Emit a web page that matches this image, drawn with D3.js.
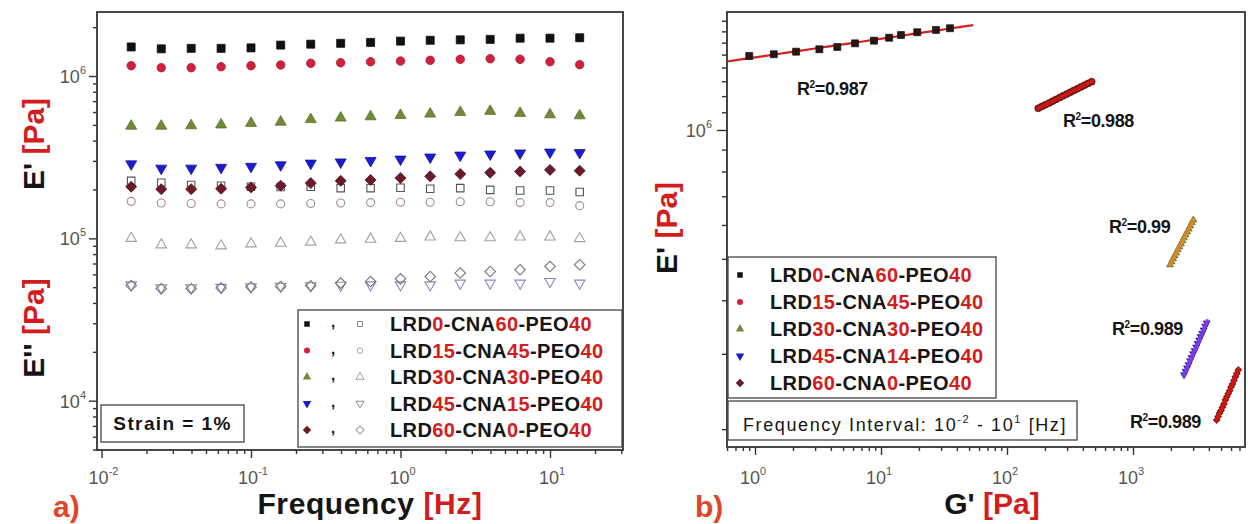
<!DOCTYPE html>
<html><head><meta charset="utf-8">
<script src="https://cdn.jsdelivr.net/npm/d3@7"></script>
<style>body{margin:0;background:#fff}svg{display:block;font-family:"Liberation Sans",Arial,sans-serif}</style>
</head><body><svg id="c" width="1248" height="524"></svg>
<script>
// ---------------- DATA ----------------
const frequencyHz = [0.0158,0.0251,0.0398,0.0631,0.1,0.158,0.251,0.398,0.631,1.0,1.58,2.51,3.98,6.31,10.0,15.8];
const legendLabelsA = ["LRD0-CNA60-PEO40","LRD15-CNA45-PEO40","LRD30-CNA30-PEO40","LRD45-CNA15-PEO40","LRD60-CNA0-PEO40"];
const legendLabelsB = ["LRD0-CNA60-PEO40","LRD15-CNA45-PEO40","LRD30-CNA30-PEO40","LRD45-CNA14-PEO40","LRD60-CNA0-PEO40"];

// E' (storage) vs frequency, panel a
const storageLRD0  = [1.51e6,1.47e6,1.48e6,1.48e6,1.49e6,1.55e6,1.57e6,1.59e6,1.61e6,1.64e6,1.66e6,1.67e6,1.68e6,1.71e6,1.71e6,1.72e6];
const storageLRD15 = [1.157e6,1.125e6,1.125e6,1.141e6,1.157e6,1.169e6,1.197e6,1.207e6,1.224e6,1.236e6,1.249e6,1.267e6,1.278e6,1.267e6,1.224e6,1.175e6];
const storageLRD30 = [4.92e5,4.92e5,4.95e5,5.01e5,5.12e5,5.21e5,5.40e5,5.52e5,5.62e5,5.73e5,5.84e5,5.98e5,6.07e5,5.90e5,5.78e5,5.70e5];
const storageLRD45 = [2.87e5,2.70e5,2.70e5,2.73e5,2.77e5,2.83e5,2.90e5,2.95e5,3.01e5,3.07e5,3.16e5,3.25e5,3.30e5,3.35e5,3.39e5,3.37e5];
const storageLRD60 = [2.08e5,2.01e5,2.01e5,2.02e5,2.06e5,2.11e5,2.19e5,2.26e5,2.29e5,2.35e5,2.41e5,2.49e5,2.54e5,2.58e5,2.64e5,2.61e5];
// E'' (loss) vs frequency, panel a
const lossLRD0  = [2.26e5,2.20e5,2.13e5,2.11e5,2.08e5,2.07e5,2.08e5,2.04e5,2.04e5,2.05e5,2.02e5,2.04e5,1.99e5,1.97e5,1.97e5,1.93e5];
const lossLRD15 = [1.69e5,1.65e5,1.64e5,1.63e5,1.63e5,1.63e5,1.64e5,1.65e5,1.66e5,1.67e5,1.67e5,1.68e5,1.68e5,1.66e5,1.66e5,1.59e5];
const lossLRD30 = [1.00e5,9.12e4,9.12e4,8.99e4,9.25e4,9.33e4,9.48e4,9.79e4,9.88e4,1.00e5,1.02e5,1.01e5,1.01e5,1.02e5,1.02e5,9.97e4];
const lossLRD45 = [5.17e4,4.96e4,4.96e4,4.99e4,5.03e4,5.07e4,5.10e4,5.14e4,5.17e4,5.17e4,5.17e4,5.30e4,5.30e4,5.30e4,5.42e4,5.30e4];
const lossLRD60 = [5.12e4,4.89e4,4.89e4,4.94e4,5.01e4,5.05e4,5.10e4,5.30e4,5.42e4,5.63e4,5.82e4,6.11e4,6.25e4,6.40e4,6.70e4,6.87e4];

// E' vs G' (panel b)
const gPrimeLRD0  = [0.90,1.41,2.12,3.24,4.50,6.22,8.80,11.6,14.4,19.4,27.3,35.3];
const ePrimeLRD0  = [1.489e6,1.503e6,1.524e6,1.544e6,1.563e6,1.594e6,1.617e6,1.643e6,1.667e6,1.692e6,1.713e6,1.729e6];
const gPrimeLRD15 = [177,189,202,216,230,245,262,279,298,318,339,362,386,412,440,470];
const ePrimeLRD15 = [1.124e6,1.135e6,1.146e6,1.156e6,1.168e6,1.179e6,1.191e6,1.202e6,1.213e6,1.225e6,1.237e6,1.248e6,1.261e6,1.273e6,1.285e6,1.297e6];
const gPrimeLRD30 = [1967,2024,2082,2142,2204,2267,2333,2400,2469,2540,2614,2689,2767,2846,2928,3012];
const ePrimeLRD30 = [4.84e5,4.92e5,5.00e5,5.08e5,5.16e5,5.25e5,5.33e5,5.42e5,5.51e5,5.60e5,5.69e5,5.78e5,5.87e5,5.97e5,6.07e5,6.16e5];
const gPrimeLRD45 = [2541,2612,2685,2761,2838,2917,2999,3083,3170,3259,3350,3444,3540,3640,3742,3846];
const ePrimeLRD45 = [2.68e5,2.73e5,2.78e5,2.83e5,2.89e5,2.94e5,3.00e5,3.05e5,3.11e5,3.17e5,3.23e5,3.29e5,3.35e5,3.41e5,3.48e5,3.54e5];
const gPrimeLRD60 = [4616,4739,4865,4995,5128,5265,5405,5549,5697,5849,6005,6165,6329,6498,6671,6850];
const ePrimeLRD60 = [2.10e5,2.14e5,2.18e5,2.21e5,2.25e5,2.29e5,2.34e5,2.38e5,2.42e5,2.46e5,2.51e5,2.55e5,2.60e5,2.65e5,2.70e5,2.75e5];
const fitRangeG = [[0.6,54],[170,490],[1940,3060],[2500,3950],[4550,7000]];
const r2Values = ["0.987","0.988","0.99","0.989","0.989"];

const xTickExpA = [-2,-1,0,1];
const yTickExpA = [4,5,6];
const xTickExpB = [0,1,2,3];
const yTickExpB = [6];

// ---------------- STYLE / LAYOUT ----------------
const RED = "#d41c1c";
const styles = [
  {sym:"square",  fill:"#111111", open:"#555555", legOpen:"#8a8a8a", fit:"#d42020", bfill:"#2a1515"},
  {sym:"circle",  fill:"#d0203c", open:"#a88888", legOpen:"#a0a0a0", fit:"#d01818", bfill:"#7a1010"},
  {sym:"tri",     fill:"#728a36", open:"#a0a0a0", legOpen:"#a0a0a0", fit:"#e08a2a", bfill:"#6f8a30"},
  {sym:"dtri",    fill:"#1c1ccc", open:"#8888c0", legOpen:"#909090", fit:"#8a3cf0", bfill:"#2020c0"},
  {sym:"diamond", fill:"#6a1a2a", open:"#777777", legOpen:"#999999", fit:"#e01414", bfill:"#6a1010"}
];
const storageA = [storageLRD0,storageLRD15,storageLRD30,storageLRD45,storageLRD60];
const lossA = [lossLRD0,lossLRD15,lossLRD30,lossLRD45,lossLRD60];
const gB = [gPrimeLRD0,gPrimeLRD15,gPrimeLRD30,gPrimeLRD45,gPrimeLRD60];
const eB = [ePrimeLRD0,ePrimeLRD15,ePrimeLRD30,ePrimeLRD45,ePrimeLRD60];

const svg = d3.select("#c");
const A = {left:97,right:623,top:12,bottom:450};
const B = {left:727,right:1245,top:12,bottom:447};
const xA = d3.scaleLog().domain([1e-2,1e1]).range([101.5,550]);
const yA = d3.scaleLog().domain([1e4,1e6]).range([400.7,76]);
const xB = d3.scaleLog().domain([1,1e3]).range([755,1133]);
const yB = d3.scaleLog().domain([1e5,1e6]).range([558,130]);

function symPath(type,s){
  switch(type){
    case "square": return d3.symbol(d3.symbolSquare, s*s)();
    case "circle": return d3.symbol(d3.symbolCircle, Math.PI*s*s/4)();
    case "tri": case "dtri": return d3.symbol(d3.symbolTriangle, Math.sqrt(3)/4*s*s)();
    case "diamond": return d3.symbol(d3.symbolSquare, s*s/2)();
  }
}
function symRot(type){ return type==="dtri"?180:(type==="diamond"?45:0); }
function drawSym(g,type,x,y,s,fill,stroke,sw){
  g.append("path").attr("d",symPath(type,s))
   .attr("transform",`translate(${x},${y}) rotate(${symRot(type)})`)
   .attr("fill",fill).attr("stroke",stroke||"none").attr("stroke-width",sw||0);
}
function sizeFor(type){ return {square:8,circle:8.5,tri:11,dtri:11,diamond:11}[type]; }

function minorTicks(scale, pxLo, pxHi){
  const out=[];
  for(let e=-4;e<=8;e++) for(let k=2;k<=9;k++){
    const v=k*Math.pow(10,e); const p=scale(v);
    if(p>=pxLo-0.5 && p<=pxHi+0.5) out.push(v);
  }
  return out;
}
function colorText(sel, str){
  str.split(/(\d+)/).filter(s=>s.length).forEach(part=>{
    sel.append("tspan").attr("fill", /^\d+$/.test(part)?RED:"#151515").text(part);
  });
}
function powLabel(g,x,y,exp,anchor){
  const t=g.append("text").attr("x",x).attr("y",y).attr("text-anchor",anchor)
    .attr("font-size",18).attr("fill","#555");
  t.append("tspan").text("10");
  t.append("tspan").attr("dy",-9).attr("font-size",11).text(exp);
}

// ---------------- PANEL A ----------------
const gA = svg.append("g");
const yAminor = minorTicks(yA, A.top, A.bottom);
const gya = gA.append("g").attr("transform",`translate(${A.left},0)`);
gya.call(d3.axisLeft(yA).tickValues(yAminor).tickSize(4).tickFormat(""));
gya.call(g=>g.select(".domain").remove());
const gya2 = gA.append("g").attr("transform",`translate(${A.left},0)`);
gya2.call(d3.axisLeft(yA).tickValues(yTickExpA.map(e=>Math.pow(10,e))).tickSize(8).tickFormat(""));
gya2.call(g=>g.select(".domain").remove());
const xAminor = minorTicks(xA, A.left, A.right);
const gxa = gA.append("g").attr("transform",`translate(0,${A.bottom})`);
gxa.call(d3.axisBottom(xA).tickValues(xAminor).tickSize(4).tickFormat(""));
gxa.call(g=>g.select(".domain").remove());
const gxa2 = gA.append("g").attr("transform",`translate(0,${A.bottom})`);
gxa2.call(d3.axisBottom(xA).tickValues(xTickExpA.map(e=>Math.pow(10,e))).tickSize(8).tickFormat(""));
gxa2.call(g=>g.select(".domain").remove());
gA.selectAll(".tick line").attr("stroke","#333").attr("stroke-width",1.4);
yTickExpA.forEach(e=>powLabel(gA, A.left-11, yA(Math.pow(10,e))+7, String(e), "end"));
xTickExpA.forEach(e=>powLabel(gA, xA(Math.pow(10,e))+2, 484, String(e), "middle"));

const mA = gA.append("g");
lossA.forEach((arr,i)=>{
  const st=styles[i];
  arr.forEach((v,j)=>drawSym(mA, st.sym, xA(frequencyHz[j]), yA(v), sizeFor(st.sym)-0.5, "none", st.open, 1.1));
});
storageA.forEach((arr,i)=>{
  const st=styles[i];
  arr.forEach((v,j)=>drawSym(mA, st.sym, xA(frequencyHz[j]), yA(v), sizeFor(st.sym), st.fill, d3.color(st.fill).darker(0.6), 0.8));
});
gA.append("rect").attr("x",A.left).attr("y",A.top).attr("width",A.right-A.left).attr("height",A.bottom-A.top)
  .attr("fill","none").attr("stroke","#333").attr("stroke-width",1.8);

// legend A
const legA = gA.append("g");
legA.append("rect").attr("x",298).attr("y",310).attr("width",324).attr("height",137)
  .attr("fill","#fff").attr("stroke","#444").attr("stroke-width",1.3);
legendLabelsA.forEach((lab,i)=>{
  const y=324+26.5*i, st=styles[i];
  drawSym(legA, st.sym, 307, y, sizeFor(st.sym)-2.5, st.fill, null, 0);
  legA.append("text").attr("x",331).attr("y",y+3).attr("font-size",15).attr("font-weight","bold").attr("fill","#111").text(",");
  drawSym(legA, st.sym, 360, y, sizeFor(st.sym)-3, "none", st.legOpen, 1);
  const t=legA.append("text").attr("x",390).attr("y",y+7).attr("font-size",20).attr("font-weight","bold").attr("letter-spacing",0.4);
  colorText(t, lab);
});
gA.append("rect").attr("x",101).attr("y",405).attr("width",143).attr("height",37)
  .attr("fill","#fff").attr("stroke","#444").attr("stroke-width",1.3);
gA.append("text").attr("x",172.5).attr("y",430).attr("text-anchor","middle").attr("font-size",19)
  .attr("font-weight","bold").attr("letter-spacing",1.4).attr("fill","#151515").text("Strain = 1%");

function rotTitle(g,x,y,main){
  const t=g.append("text").attr("transform",`translate(${x},${y}) rotate(-90)`).attr("text-anchor","middle")
    .attr("font-size",30).attr("font-weight","bold");
  t.append("tspan").attr("fill","#151515").text(main+" ");
  t.append("tspan").attr("fill",RED).text("[Pa]");
}
rotTitle(gA, 44, 144, "E'");
rotTitle(gA, 44, 328, "E''");
{
  const t=gA.append("text").attr("x",370).attr("y",514).attr("text-anchor","middle").attr("font-size",30)
    .attr("font-weight","bold").attr("letter-spacing",0.6);
  t.append("tspan").attr("fill","#151515").text("Frequency ");
  t.append("tspan").attr("fill",RED).text("[Hz]");
}
gA.append("text").attr("x",53).attr("y",517).attr("font-size",30).attr("font-weight","bold").attr("fill","#e0452b").text("a)");

// ---------------- PANEL B ----------------
const gBp = svg.append("g");
const yBminor = d3.range(2,19).map(k=>k*1e5).filter(v=>v!==1e6 && yB(v)>=B.top && yB(v)<=B.bottom);
const gyb = gBp.append("g").attr("transform",`translate(${B.left},0)`);
gyb.call(d3.axisLeft(yB).tickValues(yBminor).tickSize(5).tickFormat(""));
gyb.call(g=>g.select(".domain").remove());
const gyb2 = gBp.append("g").attr("transform",`translate(${B.left},0)`);
gyb2.call(d3.axisLeft(yB).tickValues(yTickExpB.map(e=>Math.pow(10,e))).tickSize(10).tickFormat(""));
gyb2.call(g=>g.select(".domain").remove());
const xBminor = minorTicks(xB, B.left, B.right);
const gxb = gBp.append("g").attr("transform",`translate(0,${B.bottom})`);
gxb.call(d3.axisBottom(xB).tickValues(xBminor).tickSize(4).tickFormat(""));
gxb.call(g=>g.select(".domain").remove());
const gxb2 = gBp.append("g").attr("transform",`translate(0,${B.bottom})`);
gxb2.call(d3.axisBottom(xB).tickValues(xTickExpB.map(e=>Math.pow(10,e))).tickSize(8).tickFormat(""));
gxb2.call(g=>g.select(".domain").remove());
gBp.selectAll(".tick line").attr("stroke","#333").attr("stroke-width",1.4);
yTickExpB.forEach(e=>powLabel(gBp, B.left-15, yB(Math.pow(10,e))+7, String(e), "end"));
xTickExpB.forEach(e=>powLabel(gBp, xB(Math.pow(10,e))-2, 484, String(e), "middle"));

const mB = gBp.append("g");
gB.forEach((garr,i)=>{
  const st=styles[i], earr=eB[i];
  const lx=garr.map(Math.log10), ly=earr.map(Math.log10);
  const mx=d3.mean(lx), my=d3.mean(ly);
  const slope=d3.sum(lx.map((v,k)=>(v-mx)*(ly[k]-my)))/d3.sum(lx.map(v=>(v-mx)*(v-mx)));
  const icpt=my-slope*mx;
  const fitPts=d3.range(0,21).map(k=>{
    const lg=Math.log10(fitRangeG[i][0])+(Math.log10(fitRangeG[i][1])-Math.log10(fitRangeG[i][0]))*k/20;
    return [xB(Math.pow(10,lg)), yB(Math.pow(10,icpt+slope*lg))];
  });
  const line=d3.line();
  if(i===0){
    mB.append("path").attr("d",line(fitPts)).attr("fill","none").attr("stroke",st.fit).attr("stroke-width",2.2);
    garr.forEach((g,j)=>drawSym(mB, st.sym, xB(g), yB(earr[j]), 7, st.bfill, "#000", 0.6));
  } else {
    garr.forEach((g,j)=>drawSym(mB, st.sym, xB(g), yB(earr[j]), 7, st.bfill, d3.color(st.bfill).darker(1), 0.6));
    mB.append("path").attr("d",line(fitPts)).attr("fill","none").attr("stroke",st.fit).attr("stroke-width",4).attr("opacity",0.9);
  }
});
const r2Pos = [[797,95],[1063,127],[1109,233],[1112,335],[1130,428]];
r2Values.forEach((v,i)=>{
  const t=gBp.append("text").attr("x",r2Pos[i][0]).attr("y",r2Pos[i][1]).attr("font-size",18)
    .attr("font-weight","bold").attr("fill","#151515").attr("letter-spacing",-0.4);
  t.append("tspan").text("R");
  t.append("tspan").attr("dy",-7).attr("font-size",10).text("2");
  t.append("tspan").attr("dy",7).text("="+v);
});
gBp.append("rect").attr("x",B.left).attr("y",B.top).attr("width",B.right-B.left).attr("height",B.bottom-B.top)
  .attr("fill","none").attr("stroke","#333").attr("stroke-width",1.8);

// legend B
const legB = gBp.append("g");
legB.append("rect").attr("x",728).attr("y",257).attr("width",268).attr("height",141)
  .attr("fill","#fff").attr("stroke","#444").attr("stroke-width",1.3);
legendLabelsB.forEach((lab,i)=>{
  const y=275+27*i, st=styles[i];
  drawSym(legB, st.sym, 740, y, sizeFor(st.sym)-2.5, st.fill, null, 0);
  const t=legB.append("text").attr("x",770).attr("y",y+7).attr("font-size",20).attr("font-weight","bold").attr("letter-spacing",0.4);
  colorText(t, lab);
});
legB.append("rect").attr("x",728).attr("y",401).attr("width",349).attr("height",39)
  .attr("fill","#fff").attr("stroke","#444").attr("stroke-width",1.3);
{
  const t=legB.append("text").attr("x",743).attr("y",431).attr("font-size",18).attr("fill","#151515").attr("letter-spacing",1.6);
  t.append("tspan").text("Frequency Interval: 10");
  t.append("tspan").attr("dy",-8).attr("font-size",11).text("-2");
  t.append("tspan").attr("dy",8).text(" - 10");
  t.append("tspan").attr("dy",-8).attr("font-size",11).text("1");
  t.append("tspan").attr("dy",8).text(" [Hz]");
}
rotTitle(gBp, 677, 228, "E'");
{
  const t=gBp.append("text").attr("x",992).attr("y",514).attr("text-anchor","middle").attr("font-size",30)
    .attr("font-weight","bold");
  t.append("tspan").attr("fill","#151515").text("G' ");
  t.append("tspan").attr("fill",RED).text("[Pa]");
}
gBp.append("text").attr("x",695).attr("y",517).attr("font-size",30).attr("font-weight","bold").attr("fill","#e0452b").text("b)");
</script></body></html>
